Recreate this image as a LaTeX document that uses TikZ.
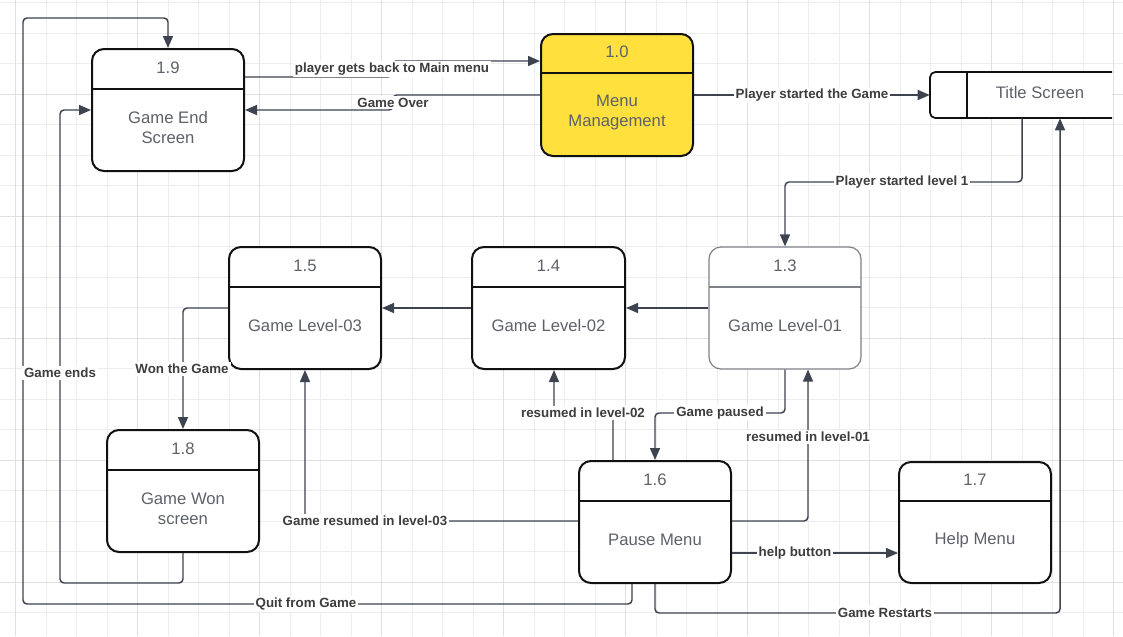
\documentclass[tikz,border=0pt]{standalone}
\usepackage{fontspec}
\setmainfont{Liberation Sans}
\usetikzlibrary{arrows.meta,fit,calc}
\definecolor{gridminor}{HTML}{EDEDED}
\definecolor{gridmajor}{HTML}{E0E0E0}
\definecolor{conncol}{HTML}{3E4350}
\definecolor{lblcol}{HTML}{3D3D3D}
\definecolor{ntxtcol}{HTML}{5E6169}
\definecolor{yelcol}{HTML}{FFE03D}
\definecolor{boxcol}{HTML}{111111}
\definecolor{lightcol}{HTML}{7E8188}

\tikzset{
 procbox/.style={draw=boxcol, line width=1.5pt, rounded corners=9pt, inner sep=0pt, fill=white},
 divline/.style={draw=boxcol, line width=1.5pt},
 numtxt/.style={font=\fontsize{12.5}{15}\selectfont, text=ntxtcol, inner sep=0pt},
 nametxt/.style={font=\fontsize{12.5}{15}\selectfont, text=ntxtcol, align=center, inner sep=0pt},
 connector/.style={draw=conncol, line width=1.1pt, rounded corners=3pt, -{Triangle[length=9pt,width=7.5pt]}},
 lab/.style={font=\bfseries\fontsize{10}{12}\selectfont, text=lblcol, fill=white, inner sep=1.5pt},
 gminor/.style={draw=gridminor, line width=0.75pt},
 gmajor/.style={draw=gridmajor, line width=0.75pt},
}

% #1 name, #2 left, #3 top, #4 right, #5 bottom, #6 divider y, #7 number, #8 text, #9 extra style
\newcommand{\PBox}[9]{%
 \node[procbox, #9, fit={(#2,#3) (#4,#5)}] (#1) {};
 \draw[divline, #9] (#2,#6) -- (#4,#6);
 \node[numtxt] (#1-n) at ({(#2+#4)/2}, {(#3+#6)/2-1.5}) {#7};
 \node[nametxt] (#1-t) at ({(#2+#4)/2}, {(#6+#5)/2-2}) {#8};
}

\begin{document}
\begin{tikzpicture}[x=0.75pt, y=-0.75pt]
\useasboundingbox (0,0) rectangle (1123,636);
\fill[white] (0,0) rectangle (1123,636);

% grid
\foreach \k in {0,...,36} {\draw[gminor] ({15.5+30.5*\k},0) -- ({15.5+30.5*\k},636);}
\foreach \k in {0,...,20} {\draw[gminor] (0,{2.5+30.5*\k}) -- (1123,{2.5+30.5*\k});}
\foreach \k in {0,4,...,36} {\draw[gmajor] ({15.5+30.5*\k},0) -- ({15.5+30.5*\k},636);}
\foreach \k in {3,7,...,19} {\draw[gmajor] (0,{2.5+30.5*\k}) -- (1123,{2.5+30.5*\k});}

% process boxes
\PBox{n19}{92}{49}{244}{171}{89}{1.9}{Game End\\Screen}{}
\PBox{n10}{541}{34}{693}{156}{73}{1.0}{Menu\\Management}{fill=yelcol}
\PBox{n15}{229}{247}{381}{369}{287}{1.5}{Game Level-03}{}
\PBox{n14}{472}{247}{625}{369}{287}{1.4}{Game Level-02}{}
\PBox{n13}{709}{247}{861}{369}{287}{1.3}{Game Level-01}{draw=lightcol, line width=0.9pt}
\PBox{n18}{107}{430}{259}{552}{470}{1.8}{Game Won\\screen}{}
\PBox{n16}{579}{461}{731}{583}{501}{1.6}{Pause Menu}{}
\PBox{n17}{899}{462}{1051}{583}{501}{1.7}{Help Menu}{}

% data store: Title Screen
\node[fit={(930,72) (1112,118)}, inner sep=0pt, fill=white] (ts) {};
\draw[draw=boxcol, line width=1.3pt, rounded corners=4pt] (1112,72) -- (930,72) -- (930,118) -- (1112,118);
\draw[draw=boxcol, line width=1.3pt] (967,72) -- (967,118);
\node[nametxt] (ts-t) at (1040,93) {Title Screen};

% connectors
\draw[connector] (n19.east |- 0,77) -- (392,77) -- (392,61) -- (n10.west |- 0,61);
\draw[connector] (n10.west) -- (393,95) -- (393,110) -- (n19.east |- 0,110);
\draw[connector] (n10.east) -- (ts.west);
\draw[connector] (ts.south -| 1022,0) -- (1022,182) -- (785,182) -- (n13.north);
\draw[connector] (n13.west) -- (n14.east);
\draw[connector] (n14.west) -- (n15.east);
\draw[connector] (n15.west) -- (183,308) -- (n18.north);
\draw[connector] (n18.south) -- (183,583) -- (60,583) -- (60,110) -- (n19.west);
\draw[connector] (n16.south -| 632,0) -- (632,604) -- (23,604) -- (23,18) -- (168,18) -- (n19.north);
\draw[connector] (n16.south) -- (655,613) -- (1060,613) -- (ts.south -| 1060,0);
\draw[connector] (n16.east |- 0,553) -- (n17.west |- 0,553);
\draw[connector] (n16.east |- 0,521) -- (808,521) -- (n13.south -| 808,0);
\draw[connector] (n16.west |- 0,521) -- (305,521) -- (n15.south);
\draw[connector] (n13.south) -- (785,413) -- (655,413) -- (n16.north);
\draw[connector] (n16.north -| 613,0) -- (613,413) -- (554,413) -- (n14.south -| 554,0);

% labels
\node[lab] (l1) at (392,69) {player gets back to Main menu};
\node[lab] (l2) at (393,102.5) {Game Over};
\node[lab] (l3) at (812,95) {Player started the Game};
\node[lab] (l4) at (902,182) {Player started level 1};
\node[lab] (l5) at (182,369) {Won the Game};
\node[lab] (l6) at (60,373) {Game ends};
\node[lab] (l7) at (583,413) {resumed in level-02};
\node[lab] (l8) at (720,413) {Game paused};
\node[lab] (l9) at (808,437) {resumed in level-01};
\node[lab] (l10) at (365,521) {Game resumed in level-03};
\node[lab] (l11) at (795,553) {help button};
\node[lab] (l12) at (306,604) {Quit from Game};
\node[lab] (l13) at (885,613) {Game Restarts};
\end{tikzpicture}
\end{document}
